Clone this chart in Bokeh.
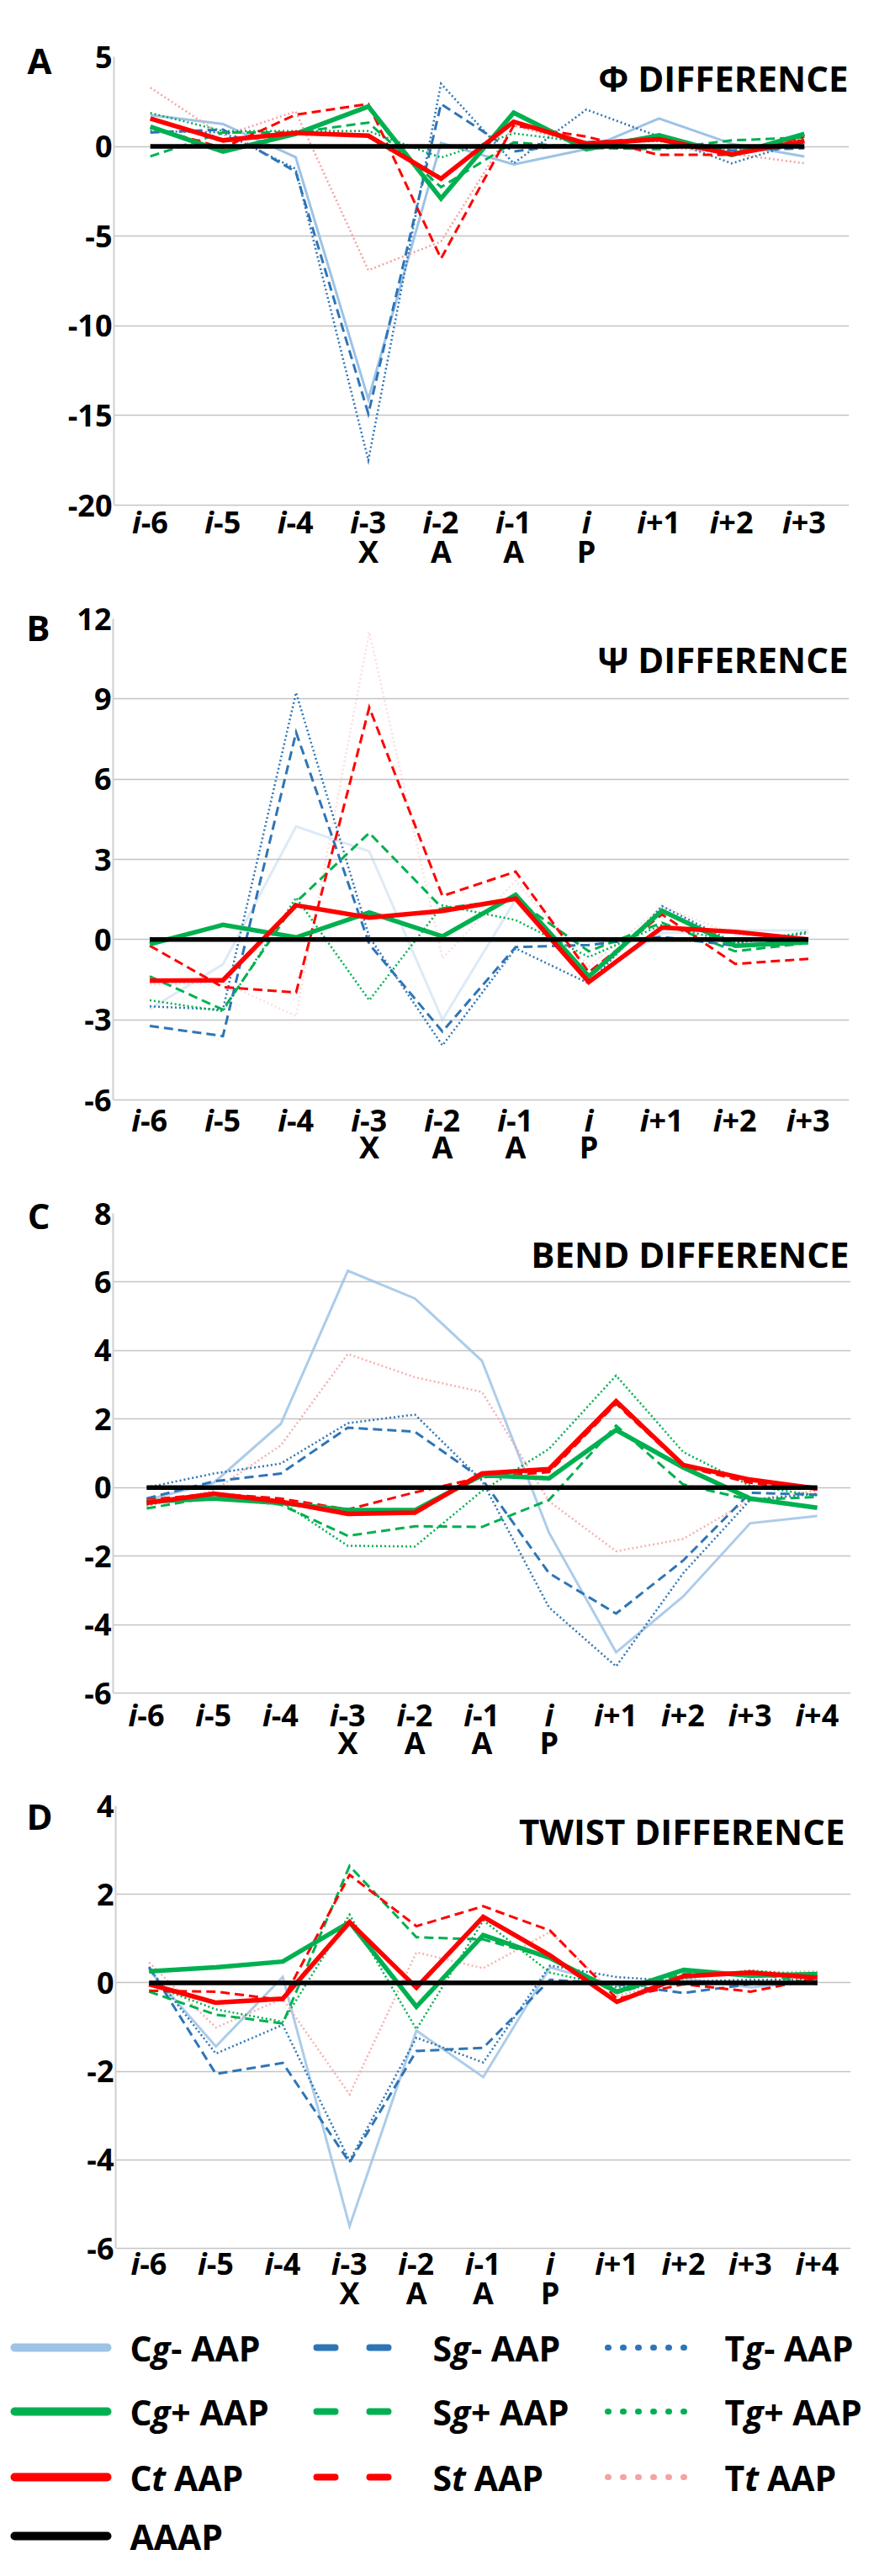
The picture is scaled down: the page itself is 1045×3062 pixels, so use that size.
from bokeh.plotting import figure
from bokeh.models import Range1d, FixedTicker, Label, LinearAxis
from bokeh.embed import file_html
from bokeh.resources import INLINE

FONT = "Open Sans"

# ---------------- data ----------------
POS_SUFFIX_10 = ["-6", "-5", "-4", "-3", "-2", "-1", "", "+1", "+2", "+3"]
POS_SUFFIX_11 = ["-6", "-5", "-4", "-3", "-2", "-1", "", "+1", "+2", "+3", "+4"]
RESIDUE_10 = ["", "", "", "X", "A", "A", "P", "", "", ""]
RESIDUE_11 = ["", "", "", "X", "A", "A", "P", "", "", "", ""]

PHI_TICKS = [-20, -15, -10, -5, 0, 5]
PSI_TICKS = [-6, -3, 0, 3, 6, 9, 12]
BEND_TICKS = [-6, -4, -2, 0, 2, 4, 6, 8]
TWIST_TICKS = [-6, -4, -2, 0, 2, 4]

# Panel A: Phi difference (i-6 .. i+3)
PHI_CG_MINUS = [1.75, 1.25, -0.6, -14.1, 0.2, -1.0, -0.15, 1.56, 0.15, -0.56]
PHI_CG_PLUS = [1.1, -0.28, 0.7, 2.23, -2.9, 1.88, -0.15, 0.62, -0.47, 0.7]
PHI_CT = [1.56, 0.34, 0.75, 0.6, -1.8, 1.38, 0.16, 0.4, -0.44, 0.3]
PHI_AAAP = [0, 0, 0, 0, 0, 0, 0, 0, 0, 0]
PHI_SG_MINUS = [0.78, 0.94, -1.4, -14.9, 2.37, -0.28, 0.23, 0.47, -0.23, -0.1]
PHI_SG_PLUS = [-0.55, 0.78, 0.78, 1.33, -2.27, 0.23, -0.08, -0.15, 0.34, 0.5]
PHI_ST = [1.06, -0.08, 1.77, 2.37, -6.25, 1.17, 0.55, -0.47, -0.47, 0.55]
PHI_TG_MINUS = [0.86, 0.78, -1.25, -17.5, 3.5, -0.94, 2.06, 0.55, -0.94, 0.3]
PHI_TG_PLUS = [1.87, 0.86, 0.86, 0.86, -0.62, 0.73, 0.23, 0.3, -0.23, 0.4]
PHI_TT = [3.28, 0.6, 1.95, -6.9, -5.3, 1.17, 0.08, 0.0, -0.4, -0.94]

# Panel B: Psi difference (i-6 .. i+3)
PSI_CG_MINUS = [-2.6, -0.93, 4.23, 3.3, -3.0, 1.5, -1.5, 0.24, 0.34, 0.34]
PSI_CG_PLUS = [-0.17, 0.55, 0.08, 1.01, 0.12, 1.67, -1.38, 1.08, -0.23, -0.1]
PSI_CT = [-1.54, -1.52, 1.28, 0.82, 1.07, 1.53, -1.59, 0.45, 0.29, 0.0]
PSI_AAAP = [0, 0, 0, 0, 0, 0, 0, 0, 0, 0]
PSI_SG_MINUS = [-3.23, -3.61, 7.75, -0.17, -3.44, -0.28, -0.2, 0.1, -0.23, 0.0]
PSI_SG_PLUS = [-1.38, -2.62, 1.4, 3.99, 1.17, 1.5, -0.44, 0.63, -0.44, -0.12]
PSI_ST = [-0.23, -1.78, -1.98, 8.68, 1.63, 2.54, -1.22, 0.94, -0.91, -0.72]
PSI_TG_MINUS = [-2.5, -2.62, 9.24, 0.1, -3.96, -0.33, -1.64, 1.25, -0.13, 0.24]
PSI_TG_PLUS = [-2.27, -2.68, 1.57, -2.27, 1.28, 0.73, -0.65, 0.55, -0.13, 0.29]
PSI_TT = [-1.69, -1.6, -2.86, 11.5, -0.7, 2.2, -1.0, 1.23, 0.19, 0.08]

# Panel C: Bend difference (i-6 .. i+4)
BEND_CG_MINUS = [-0.36, 0.14, 1.86, 6.33, 5.52, 3.7, -1.32, -4.81, -3.18, -1.04, -0.83]
BEND_CG_PLUS = [-0.41, -0.32, -0.45, -0.66, -0.66, 0.36, 0.27, 1.68, 0.59, -0.32, -0.59]
BEND_CT = [-0.45, -0.18, -0.41, -0.77, -0.73, 0.41, 0.54, 2.52, 0.66, 0.23, -0.03]
BEND_AAAP = [0, 0, 0, 0, 0, 0, 0, 0, 0, 0, 0]
BEND_SG_MINUS = [-0.32, 0.18, 0.41, 1.75, 1.63, 0.25, -2.5, -3.68, -2.13, -0.15, -0.21]
BEND_SG_PLUS = [-0.61, -0.27, -0.5, -1.41, -1.13, -1.15, -0.36, 1.81, 0.09, -0.36, -0.27]
BEND_ST = [-0.36, -0.18, -0.32, -0.64, -0.14, 0.3, 0.45, 2.45, 0.62, 0.14, -0.05]
BEND_TG_MINUS = [0.0, 0.41, 0.7, 1.88, 2.13, 0.2, -3.5, -5.22, -2.5, -0.36, -0.18]
BEND_TG_PLUS = [-0.5, -0.18, -0.41, -1.7, -1.72, -0.1, 1.13, 3.27, 1.04, 0.05, -0.23]
BEND_TT = [-0.54, -0.09, 1.23, 3.9, 3.22, 2.79, -0.4, -1.86, -1.5, -0.36, -0.09]

# Panel D: Twist difference (i-6 .. i+4)
TWIST_CG_MINUS = [0.29, -1.44, 0.13, -5.5, -1.08, -2.13, 0.35, -0.07, 0.1, -0.1, 0.03]
TWIST_CG_PLUS = [0.26, 0.35, 0.48, 1.37, -0.54, 1.08, 0.56, -0.2, 0.29, 0.16, 0.2]
TWIST_CT = [-0.03, -0.45, -0.36, 1.37, -0.11, 1.49, 0.62, -0.43, 0.15, 0.23, 0.11]
TWIST_AAAP = [0, 0, 0, 0, 0, 0, 0, 0, 0, 0, 0]
TWIST_SG_MINUS = [0.36, -2.06, -1.81, -4.06, -1.54, -1.47, 0.07, -0.03, -0.23, -0.03, 0.03]
TWIST_SG_PLUS = [-0.2, -0.72, -0.92, 2.64, 1.03, 0.98, 0.56, -0.23, 0.2, 0.23, -0.03]
TWIST_ST = [-0.18, -0.2, -0.39, 2.44, 1.28, 1.73, 1.18, -0.36, -0.03, -0.2, 0.1]
TWIST_TG_MINUS = [0.33, -1.6, -0.95, -4.02, -1.24, -1.8, 0.39, 0.13, 0.03, 0.07, 0.07]
TWIST_TG_PLUS = [-0.03, -0.6, -0.88, 1.54, -1.05, 1.41, 0.23, -0.1, 0.1, 0.28, 0.16]
TWIST_TT = [0.46, -1.01, -0.36, -2.52, 0.69, 0.33, 1.15, -0.3, 0.1, 0.23, 0.26]

# legend labels: (prefix, italic part, rest)
LEGEND_COL1 = [("C", "g", "- AAP"), ("C", "g", "+ AAP"), ("C", "t", "AAP"), ("", "", "AAAP")]
LEGEND_COL2 = [("S", "g", "- AAP"), ("S", "g", "+ AAP"), ("S", "t", "AAP")]
LEGEND_COL3 = [("T", "g", "- AAP"), ("T", "g", "+ AAP"), ("T", "t", "AAP")]

# ---------------- styles ----------------
BLUE_LIGHT = "#9DC3E6"
BLUE = "#2E75B6"
GREEN = "#00B050"
RED = "#FF0000"
PINK = "#F4A3A3"
BLACK = "#000000"

STYLE = {
    "cg_minus": dict(color=BLUE_LIGHT, width=3, dash="solid"),
    "tt": dict(color=PINK, width=2.5, dash="2 3"),
    "tg_minus": dict(color=BLUE, width=2.5, dash="2 3"),
    "tg_plus": dict(color=GREEN, width=2.5, dash="2 3"),
    "sg_minus": dict(color=BLUE, width=3, dash="11 6"),
    "sg_plus": dict(color=GREEN, width=3, dash="11 6"),
    "st": dict(color=RED, width=3, dash="11 6"),
    "cg_plus": dict(color=GREEN, width=5.5, dash="solid"),
    "ct": dict(color=RED, width=5.5, dash="solid"),
    "aaap": dict(color=BLACK, width=5.5, dash="solid"),
}

# approximate advance widths (em) of Open Sans Bold, used only for text placement
EM = {"-": 0.322, "+": 0.572, " ": 0.26, "A": 0.68, "B": 0.67, "C": 0.63, "D": 0.73,
      "P": 0.63, "S": 0.55, "T": 0.58, "g": 0.56, "t": 0.39, "i": 0.28}


def text_w(s, size):
    return sum(EM.get(c, 0.572) for c in s) * size


TICK_PX = 36
TITLE_PX = 42
TICK_STANDOFF = 2


def make_panel(letter, title, ticks, suffixes, residues, series, fw, fh, ext, pad,
               bl, br, bt, title_dx, title_dy, letter_right, letter_dy,
               row1, row2, faint=1.0):
    n = len(suffixes)
    ymin, ymax = ticks[0], ticks[-1]
    ppu = fh / (ymax - ymin)
    ppx = fw / n
    p = figure(frame_width=fw + pad, frame_height=fh + ext,
               x_range=Range1d(-0.5, n - 0.5 + pad / ppx),
               y_range=Range1d(ymin - ext / ppu, ymax),
               x_axis_location=None,
               output_backend="svg", toolbar_location=None,
               min_border_left=bl, min_border_right=br,
               min_border_top=bt, min_border_bottom=0)
    p.outline_line_color = None
    p.background_fill_color = "white"
    p.border_fill_color = "white"
    p.xgrid.visible = False

    yax = p.yaxis[0]
    yax.ticker = FixedTicker(ticks=ticks)
    yax.bounds = (ymin, ymax)
    yax.major_label_overrides = {t: str(t) for t in ticks}
    yax.major_tick_line_color = None
    yax.minor_tick_line_color = None
    yax.major_tick_out = 0
    yax.major_tick_in = 0
    yax.axis_line_color = "#D0D0D0"
    yax.axis_line_width = 2
    yax.major_label_standoff = TICK_STANDOFF
    yax.major_label_text_font = FONT
    yax.major_label_text_font_style = "bold"
    yax.major_label_text_font_size = f"{TICK_PX}px"
    yax.major_label_text_color = "black"
    p.ygrid.grid_line_color = "#C4C4C4"
    p.ygrid.grid_line_width = 1.6

    # outer left axis carrying the panel letter
    inner_w = max(text_w(str(t), TICK_PX) for t in ticks) + TICK_STANDOFF
    standoff = max(0, int(round((bl + 8) - letter_right - inner_w)))
    letter_tick = ymax - letter_dy / ppu
    lax = LinearAxis(ticker=FixedTicker(ticks=[letter_tick]),
                     major_label_overrides={letter_tick: letter},
                     axis_line_color=None, major_tick_line_color=None,
                     minor_tick_line_color=None, major_tick_out=0, major_tick_in=0,
                     major_label_standoff=standoff,
                     major_label_text_font=FONT, major_label_text_font_style="bold",
                     major_label_text_font_size=f"{TITLE_PX}px",
                     major_label_text_color="black")
    p.add_layout(lax, "left")

    xs = list(range(n))
    for key, ys in series:
        st = STYLE[key]
        alpha = faint if key in ("cg_minus", "tt") else 1.0
        p.line(xs, ys, line_color=st["color"], line_width=st["width"],
               line_dash=st["dash"], line_alpha=alpha, line_join="miter")

    # x tick labels: italic "i" + upright suffix, residue letter underneath
    for k, (suf, res) in enumerate(zip(suffixes, residues)):
        if suf:
            ws = text_w(suf, TICK_PX)
            wi = EM["i"] * TICK_PX
            jx = -(ws - wi) / 2
            p.add_layout(Label(x=k, y=ymin, x_offset=jx, y_offset=-row1, text="i",
                               text_align="right", text_baseline="middle",
                               text_font=FONT, text_font_style="bold italic",
                               text_font_size=f"{TICK_PX}px", text_color="black"))
            p.add_layout(Label(x=k, y=ymin, x_offset=jx, y_offset=-row1, text=suf,
                               text_align="left", text_baseline="middle",
                               text_font=FONT, text_font_style="bold",
                               text_font_size=f"{TICK_PX}px", text_color="black"))
        else:
            p.add_layout(Label(x=k, y=ymin, y_offset=-row1, text="i",
                               text_align="center", text_baseline="middle",
                               text_font=FONT, text_font_style="bold italic",
                               text_font_size=f"{TICK_PX}px", text_color="black"))
        if res:
            p.add_layout(Label(x=k, y=ymin, y_offset=-row2, text=res,
                               text_align="center", text_baseline="middle",
                               text_font=FONT, text_font_style="bold",
                               text_font_size=f"{TICK_PX}px", text_color="black"))

    p.add_layout(Label(x=n - 0.5 + pad / ppx, y=ymax, x_offset=title_dx, y_offset=-title_dy,
                       text=title, text_align="right", text_baseline="middle",
                       text_font=FONT, text_font_style="bold",
                       text_font_size=f"{TITLE_PX}px", text_color="black"))
    return p


def series_list(cgm, cgp, ct, aaap, sgm, sgp, st, tgm, tgp, tt):
    return [("cg_minus", cgm), ("tt", tt), ("tg_minus", tgm), ("tg_plus", tgp),
            ("sg_minus", sgm), ("sg_plus", sgp), ("st", st),
            ("cg_plus", cgp), ("ct", ct), ("aaap", aaap)]


pA = make_panel("A", "\u03a6 DIFFERENCE", PHI_TICKS, POS_SUFFIX_10, RESIDUE_10,
                series_list(PHI_CG_MINUS, PHI_CG_PLUS, PHI_CT, PHI_AAAP, PHI_SG_MINUS,
                            PHI_SG_PLUS, PHI_ST, PHI_TG_MINUS, PHI_TG_PLUS, PHI_TT),
                864, 533, 97, 10, 135, 21, 67, -1, 25, 72, 4, 20, 55)
pB = make_panel("B", "\u03a8 DIFFERENCE", PSI_TICKS, POS_SUFFIX_10, RESIDUE_10,
                series_list(PSI_CG_MINUS, PSI_CG_PLUS, PSI_CT, PSI_AAAP, PSI_SG_MINUS,
                            PSI_SG_PLUS, PSI_ST, PSI_TG_MINUS, PSI_TG_PLUS, PSI_TT),
                870, 572, 90, 5, 134, 21, 38, -1, 48, 70, 10, 24, 56, faint=0.35)
pC = make_panel("C", "BEND DIFFERENCE", BEND_TICKS, POS_SUFFIX_11, RESIDUE_11,
                series_list(BEND_CG_MINUS, BEND_CG_PLUS, BEND_CT, BEND_AAAP, BEND_SG_MINUS,
                            BEND_SG_PLUS, BEND_ST, BEND_TG_MINUS, BEND_TG_PLUS, BEND_TT),
                877, 570, 85, 0, 134, 19, 45, -2, 48, 70, 2, 26, 59, faint=0.85)
pD = make_panel("D", "TWIST DIFFERENCE", TWIST_TICKS, POS_SUFFIX_11, RESIDUE_11,
                series_list(TWIST_CG_MINUS, TWIST_CG_PLUS, TWIST_CT, TWIST_AAAP, TWIST_SG_MINUS,
                            TWIST_SG_PLUS, TWIST_ST, TWIST_TG_MINUS, TWIST_TG_PLUS, TWIST_TT),
                874, 526, 85, 0, 137, 19, 49, -7, 30, 73, 12, 18, 53, faint=0.85)

# ---------------- legend ----------------
LW, LH = 1030, 290
pL = figure(frame_width=LW, frame_height=LH, x_range=Range1d(0, LW), y_range=Range1d(LH, 0),
            x_axis_location=None, y_axis_location=None,
            output_backend="svg", toolbar_location=None,
            min_border_left=0, min_border_right=0, min_border_top=0, min_border_bottom=0)
pL.grid.visible = False
pL.outline_line_color = None

LEG_PX = 41
row_y = [33, 109, 187, 257]
col_line = [(17, 127), (376, 461), (722, 825)]
col_text = [154, 514, 861]
col_keys = [["cg_minus", "cg_plus", "ct", "aaap"], ["sg_minus", "sg_plus", "st"],
            ["tg_minus", "tg_plus", "tt"]]
col_dash = ["solid", "22 41", "1 17"]
col_width = [10, 8, 7]
cols = [LEGEND_COL1, LEGEND_COL2, LEGEND_COL3]

for c in range(3):
    x0, x1 = col_line[c]
    for r, key in enumerate(col_keys[c]):
        y = row_y[r]
        st = STYLE[key]
        pL.segment(x0=[x0], y0=[y], x1=[x1], y1=[y], line_color=st["color"],
                   line_width=col_width[c], line_cap="round", line_dash=col_dash[c])
        pre, ital, rest = cols[c][r]
        tx = col_text[c]
        if pre:
            pL.add_layout(Label(x=tx, y=y, text=pre, text_align="left", text_baseline="middle",
                                text_font=FONT, text_font_style="bold",
                                text_font_size=f"{LEG_PX}px", text_color="black"))
            tx += text_w(pre, LEG_PX)
        if ital:
            pL.add_layout(Label(x=tx, y=y, text=ital, text_align="left", text_baseline="middle",
                                text_font=FONT, text_font_style="bold italic",
                                text_font_size=f"{LEG_PX}px", text_color="black"))
            tx += text_w(ital, LEG_PX)
            if rest[0] not in "-+":
                tx += EM[" "] * LEG_PX
        pL.add_layout(Label(x=tx, y=y, text=rest, text_align="left", text_baseline="middle",
                            text_font=FONT, text_font_style="bold",
                            text_font_size=f"{LEG_PX}px", text_color="black"))

open("out.html", "w").write(file_html([pA, pB, pC, pD, pL], INLINE))
